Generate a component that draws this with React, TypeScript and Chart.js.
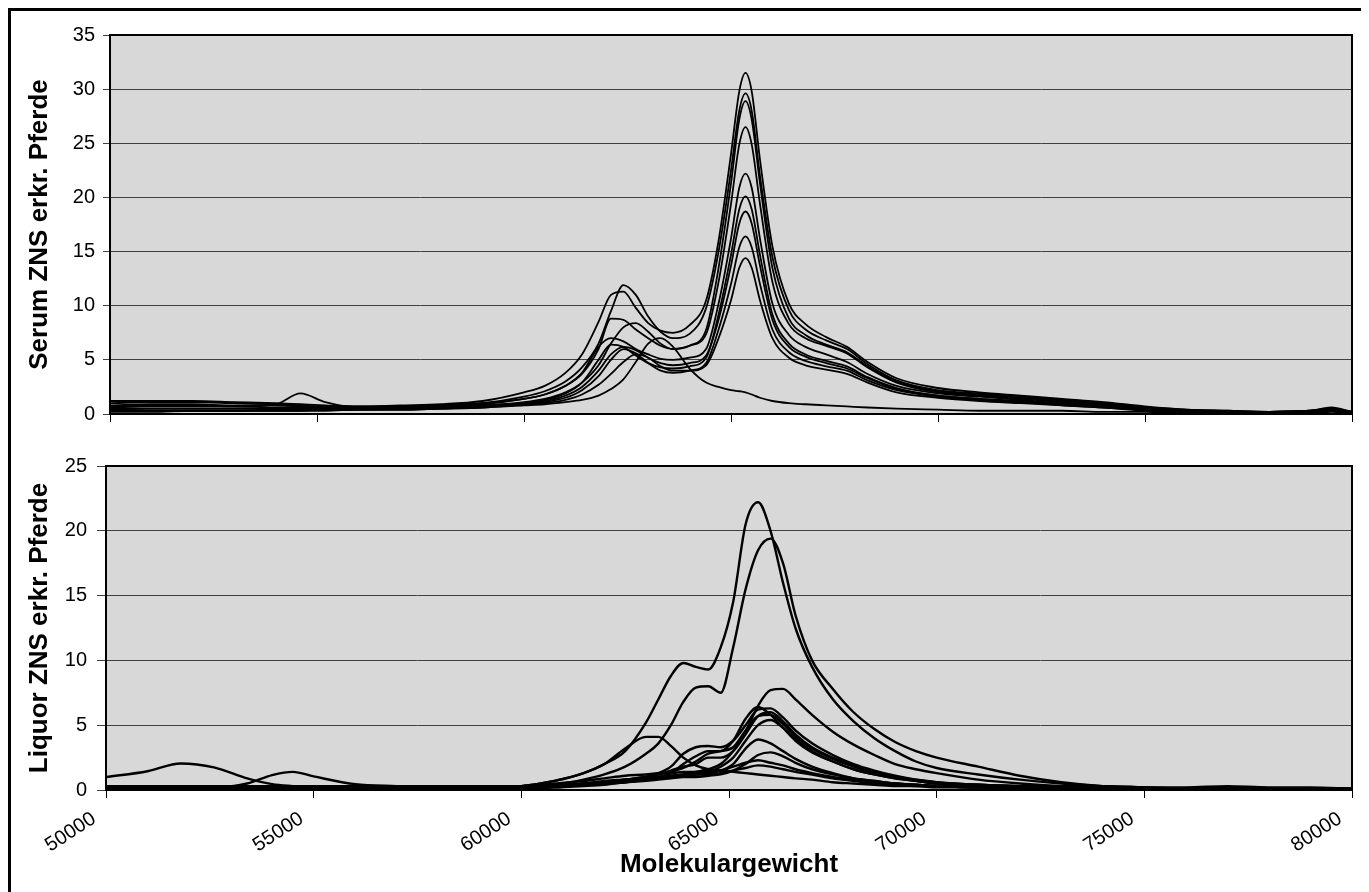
import React, { useEffect, useRef } from "react";
import { Chart, registerables } from "chart.js";

Chart.register(...registerables);

// ---------- axis ticks ----------
const xTickValues = [50000, 55000, 60000, 65000, 70000, 75000, 80000];
const xTickLabels = ["50000", "55000", "60000", "65000", "70000", "75000", "80000"];
const yTicksTop = [0, 5, 10, 15, 20, 25, 30, 35];
const yTicksBottom = [0, 5, 10, 15, 20, 25];

// ---------- Serum (top panel) ----------
const topMW = [
  50000, 51000, 52000, 53000, 54000, 54600, 55200, 56000, 57000, 58000,
  59000, 60000, 60500, 61000, 61400, 61800, 62100, 62400, 62700, 63000,
  63300, 63600, 64000, 64400, 64700, 65000, 65200, 65350, 65500, 65700,
  66000, 66400, 66800, 67300, 67800, 68300, 69000, 70000, 71000, 72000,
  73000, 74000, 75000, 76000, 77000, 78000, 79000, 79500, 80000,
];

const serum1 = [1.0,1.1,1.1,1.0,0.9,0.8,0.7,0.7,0.8,0.9,1.2,2.0,2.6,3.8,5.5,8.5,11.0,11.3,9.8,8.4,7.7,7.5,8.2,10.5,16.0,24.0,29.8,31.5,29.8,23.5,15.5,10.2,8.3,7.1,6.2,4.8,3.3,2.4,2.0,1.7,1.4,1.1,0.7,0.4,0.3,0.2,0.3,0.5,0.2];
const serum2 = [0.8,0.9,0.9,0.8,0.8,0.7,0.6,0.6,0.7,0.8,1.0,1.6,2.1,3.0,4.3,6.5,9.5,11.9,11.0,9.0,7.6,7.0,7.4,9.8,15.0,22.5,28.0,29.6,28.0,22.0,14.5,9.6,7.8,6.8,6.0,4.6,3.1,2.2,1.9,1.6,1.3,1.0,0.6,0.4,0.3,0.2,0.3,0.6,0.2];
const serum3 = [0.6,0.7,0.7,0.7,0.6,0.6,0.6,0.6,0.6,0.7,0.9,1.4,1.8,2.6,3.7,6.0,8.8,8.7,7.8,7.0,6.3,6.0,6.3,7.8,13.5,21.3,27.2,28.9,27.2,21.3,13.5,8.8,7.3,6.4,5.7,4.4,3.0,2.1,1.8,1.5,1.2,0.9,0.6,0.3,0.2,0.2,0.3,0.5,0.2];
const serum4 = [0.4,0.5,0.5,0.5,0.5,0.4,0.4,0.4,0.5,0.6,0.8,1.1,1.4,2.0,2.9,4.5,6.5,8.0,8.4,7.6,6.5,6.0,6.3,7.4,12.2,19.4,24.9,26.5,24.9,19.4,12.2,8.3,7.0,6.3,5.6,4.3,2.9,2.0,1.7,1.4,1.1,0.8,0.5,0.3,0.2,0.2,0.2,0.4,0.1];
const serum5 = [1.2,1.2,1.2,1.1,1.0,0.9,0.8,0.7,0.7,0.8,1.0,1.4,1.8,2.6,3.8,6.2,7.0,6.7,6.0,5.5,5.1,5.0,5.2,6.0,10.2,16.2,20.9,22.2,20.9,16.2,10.2,7.3,6.2,5.5,4.8,3.7,2.6,1.9,1.6,1.3,1.0,0.8,0.5,0.3,0.2,0.2,0.3,0.4,0.2];
const serum6 = [0.3,0.3,0.3,0.3,0.3,0.3,0.4,0.4,0.4,0.5,0.7,1.0,1.3,1.9,2.9,5.0,6.4,6.2,5.4,4.7,4.3,4.2,4.4,5.2,9.2,14.7,18.9,20.1,18.9,14.7,9.2,6.5,5.5,4.9,4.4,3.4,2.4,1.7,1.4,1.2,0.9,0.7,0.4,0.3,0.2,0.1,0.2,0.3,0.1];
const serum7 = [0.5,0.5,0.5,0.5,0.5,0.5,0.5,0.5,0.5,0.6,0.7,1.0,1.2,1.7,2.5,4.0,5.5,6.2,5.9,5.2,4.7,4.5,4.7,5.4,8.7,13.7,17.6,18.7,17.6,13.7,8.7,6.2,5.3,4.7,4.2,3.3,2.3,1.7,1.4,1.1,0.9,0.7,0.4,0.2,0.2,0.1,0.2,0.3,0.1];
const serum8 = [0.2,0.2,0.3,0.3,0.3,0.3,0.3,0.4,0.4,0.5,0.6,0.9,1.1,1.5,2.2,3.5,5.0,6.0,5.6,4.7,4.0,3.8,4.0,4.7,7.8,12.0,15.4,16.4,15.4,12.0,7.8,5.7,4.9,4.4,4.0,3.1,2.2,1.6,1.3,1.1,0.8,0.6,0.4,0.2,0.1,0.1,0.2,0.3,0.1];
const serum9 = [0.7,0.8,0.8,0.7,0.9,1.9,1.1,0.6,0.6,0.6,0.7,0.9,1.0,1.3,1.8,2.7,3.7,4.8,5.5,5.2,4.4,4.0,4.0,4.5,7.0,10.5,13.5,14.4,13.5,10.5,7.0,5.2,4.5,4.1,3.7,2.9,2.0,1.5,1.2,1.0,0.8,0.6,0.3,0.2,0.1,0.1,0.2,0.3,0.1];
const serum10 = [0.3,0.3,0.3,0.3,0.4,0.4,0.4,0.4,0.4,0.5,0.6,0.8,0.9,1.1,1.3,1.7,2.3,3.2,4.8,6.5,7.0,6.2,4.2,2.9,2.5,2.2,2.1,2.0,1.8,1.5,1.2,1.0,0.9,0.8,0.7,0.6,0.5,0.4,0.3,0.3,0.3,0.2,0.2,0.1,0.1,0.1,0.1,0.2,0.1];

const serumSeries = [serum1, serum2, serum3, serum4, serum5, serum6, serum7, serum8, serum9, serum10];

// ---------- Liquor (bottom panel) ----------
const botMW = [
  50000, 51000, 51800, 52600, 53400, 54000, 54500, 55000, 56000, 57000,
  58000, 59000, 60000, 60800, 61500, 62000, 62500, 63000, 63300, 63600,
  63900, 64200, 64500, 64800, 65100, 65400, 65700, 66000, 66300, 66600,
  67000, 67500, 68000, 68500, 69000, 69500, 70000, 71000, 72000, 73000,
  74000, 75000, 76000, 77000, 78000, 79000, 80000,
];

const liquorA = [0.1,0.1,0.1,0.1,0.1,0.1,0.1,0.1,0.1,0.1,0.1,0.1,0.3,0.7,1.3,2.0,3.0,5.2,7.0,8.8,9.8,9.5,9.3,11.0,14.5,20.5,22.2,20.0,16.0,12.5,9.5,7.0,5.3,4.0,3.0,2.2,1.7,1.2,0.8,0.5,0.3,0.2,0.1,0.1,0.1,0.1,0.1];
const liquorB = [0.1,0.1,0.1,0.1,0.1,0.1,0.1,0.1,0.1,0.1,0.1,0.1,0.2,0.4,0.8,1.2,1.8,2.8,3.6,5.0,6.8,7.9,8.0,7.5,11.0,15.5,18.5,19.4,17.5,13.5,10.0,7.8,6.0,4.7,3.7,3.0,2.5,1.8,1.1,0.6,0.3,0.2,0.1,0.1,0.1,0.1,0.1];
const liquorC = [0.1,0.1,0.1,0.1,0.1,0.1,0.1,0.1,0.1,0.1,0.1,0.1,0.1,0.2,0.3,0.4,0.6,0.8,1.0,1.1,1.2,1.4,1.6,2.0,3.0,4.5,6.5,7.7,7.8,7.0,5.8,4.5,3.5,2.7,2.0,1.6,1.3,0.8,0.5,0.3,0.2,0.1,0.1,0.1,0.1,0.1,0.1];
const liquorD = [0.2,0.2,0.2,0.2,0.2,0.2,0.2,0.2,0.2,0.2,0.2,0.2,0.2,0.3,0.5,0.6,0.8,1.0,1.3,1.8,2.8,3.3,3.4,3.3,3.8,5.0,6.2,6.3,5.6,4.6,3.6,2.7,2.0,1.5,1.1,0.8,0.6,0.4,0.3,0.2,0.2,0.1,0.1,0.1,0.1,0.1,0.1];
const liquorE = [0.2,0.2,0.2,0.2,0.2,0.2,0.2,0.2,0.2,0.2,0.2,0.2,0.2,0.3,0.4,0.5,0.7,0.9,1.0,1.3,2.0,2.6,3.0,3.0,3.8,5.5,6.4,5.8,4.8,3.8,2.9,2.2,1.6,1.2,0.9,0.7,0.5,0.3,0.2,0.2,0.1,0.1,0.1,0.1,0.1,0.1,0.1];
const liquorF = [0.1,0.1,0.1,0.1,0.1,0.1,0.1,0.1,0.1,0.1,0.1,0.1,0.2,0.3,0.4,0.6,0.8,1.0,1.2,1.5,1.8,2.0,2.5,2.5,3.0,4.3,5.7,6.0,5.3,4.3,3.3,2.5,1.9,1.4,1.0,0.8,0.6,0.4,0.3,0.2,0.1,0.1,0.1,0.1,0.1,0.1,0.1];
const liquorG = [0.3,0.3,0.3,0.3,0.3,0.3,0.3,0.3,0.3,0.3,0.3,0.3,0.3,0.4,0.5,0.7,0.8,0.9,1.0,1.1,1.2,1.3,1.4,1.8,2.5,3.8,5.0,5.4,4.8,3.9,3.0,2.2,1.6,1.2,0.9,0.7,0.5,0.4,0.3,0.3,0.3,0.2,0.2,0.3,0.2,0.2,0.1];
const liquorH = [0.2,0.2,0.2,0.2,0.2,0.2,0.2,0.2,0.2,0.2,0.2,0.2,0.3,0.7,1.3,2.0,3.2,4.1,4.1,3.4,2.5,1.9,1.6,1.5,1.4,1.3,1.2,1.1,1.0,0.9,0.8,0.6,0.5,0.4,0.3,0.3,0.2,0.2,0.1,0.1,0.1,0.1,0.1,0.1,0.1,0.1,0.1];
const liquorI = [0.1,0.1,0.1,0.1,0.1,0.1,0.1,0.1,0.1,0.1,0.1,0.1,0.1,0.2,0.4,0.5,0.7,0.8,0.9,1.0,1.1,1.2,1.3,1.5,2.0,3.2,3.9,3.6,3.0,2.4,1.8,1.3,0.9,0.7,0.5,0.4,0.3,0.2,0.2,0.1,0.1,0.1,0.1,0.1,0.1,0.1,0.1];
const liquorJ = [0.2,0.2,0.2,0.2,0.2,0.2,0.2,0.2,0.2,0.2,0.2,0.2,0.2,0.3,0.4,0.5,0.6,0.7,0.8,0.9,1.0,1.0,1.1,1.2,1.5,2.0,2.7,2.9,2.6,2.1,1.6,1.2,0.9,0.7,0.5,0.4,0.3,0.2,0.2,0.2,0.1,0.1,0.1,0.1,0.1,0.1,0.1];
const liquorK = [1.0,1.45,2.05,1.75,0.9,0.45,0.3,0.2,0.2,0.2,0.2,0.2,0.3,0.5,0.7,0.9,1.1,1.2,1.3,1.3,1.4,1.4,1.5,1.5,1.8,2.1,2.3,2.1,1.9,1.6,1.3,1.0,0.8,0.6,0.5,0.4,0.3,0.2,0.2,0.1,0.1,0.1,0.1,0.1,0.1,0.1,0.1];
const liquorM = [0.2,0.2,0.2,0.2,0.5,1.15,1.4,1.05,0.45,0.3,0.2,0.2,0.2,0.3,0.4,0.5,0.6,0.8,0.9,1.0,1.1,1.2,1.2,1.3,1.5,1.7,1.9,1.8,1.6,1.4,1.2,0.9,0.7,0.5,0.4,0.3,0.3,0.2,0.2,0.2,0.1,0.1,0.1,0.1,0.1,0.1,0.1];
const liquorN = [0.1,0.1,0.1,0.1,0.1,0.1,0.1,0.1,0.1,0.1,0.1,0.1,0.2,0.3,0.5,0.6,0.8,1.0,1.2,1.4,1.7,2.2,2.8,3.0,3.3,4.6,5.7,5.8,5.1,4.1,3.2,2.4,1.8,1.3,1.0,0.7,0.5,0.3,0.2,0.2,0.1,0.1,0.1,0.1,0.1,0.1,0.1];

const liquorSeries = [liquorA, liquorB, liquorC, liquorD, liquorE, liquorF, liquorG, liquorH, liquorI, liquorJ, liquorK, liquorM, liquorN];

const FONT = "'Liberation Sans', Arial, Helvetica, sans-serif";

const plotFrame = {
  id: "plotFrame",
  beforeDraw(chart: any) {
    const { ctx, chartArea } = chart;
    const { left, top, right, bottom } = chartArea;
    ctx.save();
    ctx.fillStyle = "#d8d8d8";
    ctx.fillRect(left, top, right - left, bottom - top);
    ctx.restore();
  },
  afterDraw(chart: any) {
    const { ctx, chartArea } = chart;
    const { left, top, right, bottom } = chartArea;
    ctx.save();
    ctx.strokeStyle = "#000";
    ctx.lineWidth = 2;
    ctx.strokeRect(left, top, right - left, bottom - top);
    ctx.restore();
  },
};

function buildDatasets(mw: number[], series: number[][], width: number) {
  return series.map((s) => ({
    data: mw.map((x, i) => ({ x, y: s[i] })),
    borderColor: "#000",
    borderWidth: width,
    pointRadius: 0,
    fill: false,
    cubicInterpolationMode: "monotone" as const,
    clip: 4,
  }));
}

interface PanelCfg {
  mw: number[];
  series: number[][];
  lineWidth: number;
  yMax: number;
  yTicks: number[];
  yTitle: string;
  yWidth: number;
  yTickLen: number;
  yTickPad: number;
  showX: boolean;
  xHeight: number;
  padding: { left: number; right: number; top: number; bottom: number };
}

function makeConfig(cfg: PanelCfg): any {
  return {
    type: "line",
    data: { datasets: buildDatasets(cfg.mw, cfg.series, cfg.lineWidth) },
    options: {
      responsive: false,
      maintainAspectRatio: false,
      animation: false,
      events: [],
      layout: { padding: cfg.padding },
      plugins: { legend: { display: false }, tooltip: { enabled: false } },
      scales: {
        x: {
          type: "linear",
          min: 50000,
          max: 80000,
          afterBuildTicks: (s: any) => {
            s.ticks = xTickValues.map((v) => ({ value: v }));
          },
          afterFit: (s: any) => {
            s.height = cfg.xHeight;
            s.paddingLeft = 0;
            s.paddingRight = 0;
          },
          ticks: {
            display: cfg.showX,
            autoSkip: false,
            minRotation: 33,
            maxRotation: 33,
            padding: 9,
            labelOffset: -12,
            color: "#000",
            font: { family: FONT, size: 20 },
            callback: (v: number) => xTickLabels[xTickValues.indexOf(v)] ?? String(v),
          },
          grid: {
            drawOnChartArea: false,
            drawTicks: true,
            tickLength: 8,
            color: "#000",
            lineWidth: 1,
          },
          border: { display: false },
          title: {
            display: cfg.showX,
            text: "Molekulargewicht",
            color: "#000",
            font: { family: FONT, size: 26, weight: "bold" },
            padding: { top: 0, bottom: 11 },
          },
        },
        y: {
          type: "linear",
          min: 0,
          max: cfg.yMax,
          afterBuildTicks: (s: any) => {
            s.ticks = cfg.yTicks.map((v) => ({ value: v }));
          },
          afterFit: (s: any) => {
            s.width = cfg.yWidth;
          },
          ticks: {
            color: "#000",
            padding: cfg.yTickPad,
            font: { family: FONT, size: 20 },
            callback: (v: number) => String(v),
          },
          grid: {
            color: "#404040",
            lineWidth: 1,
            drawTicks: true,
            tickLength: cfg.yTickLen,
          },
          border: { display: false },
          title: {
            display: true,
            text: cfg.yTitle,
            color: "#000",
            font: { family: FONT, size: 26, weight: "bold" },
            padding: { top: 13, bottom: 0 },
          },
        },
      },
    },
    plugins: [plotFrame],
  };
}

export default function App() {
  const topRef = useRef<HTMLCanvasElement | null>(null);
  const botRef = useRef<HTMLCanvasElement | null>(null);

  useEffect(() => {
    if (!topRef.current || !botRef.current) return;
    const top = new Chart(
      topRef.current,
      makeConfig({
        mw: topMW,
        series: serumSeries,
        lineWidth: 1.8,
        yMax: 35,
        yTicks: yTicksTop,
        yTitle: "Serum ZNS erkr. Pferde",
        yWidth: 99,
        yTickLen: 7,
        yTickPad: 8,
        showX: false,
        xHeight: 20,
        padding: { left: 0, right: 9, top: 24, bottom: 7 },
      })
    );
    const bot = new Chart(
      botRef.current,
      makeConfig({
        mw: botMW,
        series: liquorSeries,
        lineWidth: 2.4,
        yMax: 25,
        yTicks: yTicksBottom,
        yTitle: "Liquor ZNS erkr. Pferde",
        yWidth: 95,
        yTickLen: 9,
        yTickPad: 10,
        showX: true,
        xHeight: 101,
        padding: { left: 0, right: 9, top: 25, bottom: 0 },
      })
    );
    return () => {
      top.destroy();
      bot.destroy();
    };
  }, []);

  return (
    <>
      <style>{"html,body{overflow:hidden;background:#fff}"}</style>
      <div
        style={{
          position: "relative",
          width: 1350,
          height: 881,
          border: "3px solid #000",
          borderBottom: "none",
          background: "#fff",
        }}
      >
        <canvas
          ref={topRef}
          width={1350}
          height={430}
          style={{ position: "absolute", left: 0, top: 0, width: 1350, height: 430 }}
        />
        <canvas
          ref={botRef}
          width={1350}
          height={450}
          style={{ position: "absolute", left: 0, top: 430, width: 1350, height: 450 }}
        />
      </div>
    </>
  );
}
